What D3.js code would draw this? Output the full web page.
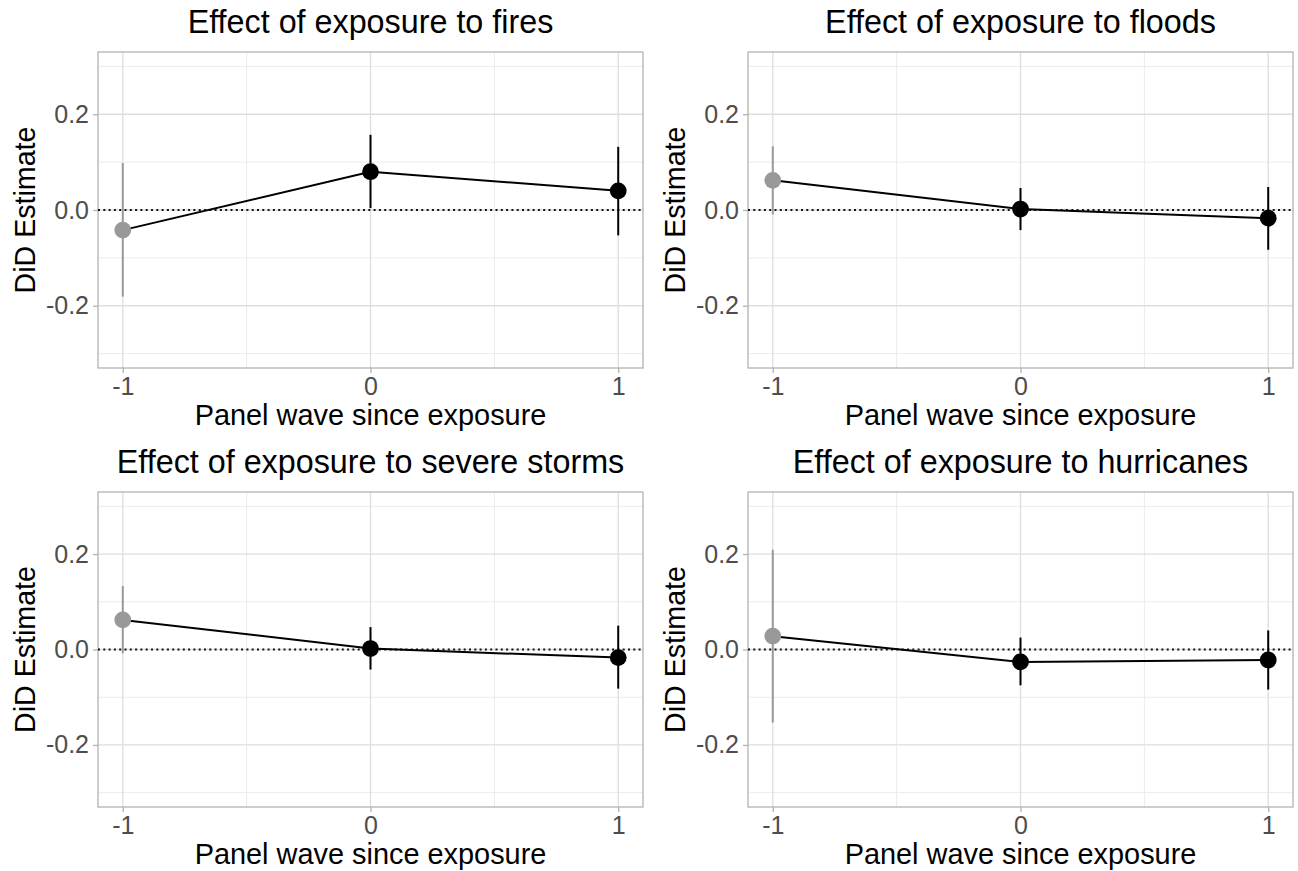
<!DOCTYPE html>
<html>
<head>
<meta charset="utf-8">
<script src="https://cdn.jsdelivr.net/npm/d3@7"></script>
<style>
  html, body { margin: 0; padding: 0; background: #fff; }
  svg { display: block; font-family: "Liberation Sans", Arial, Helvetica, sans-serif; }
</style>
</head>
<body>
<svg id="chart" width="1298" height="871"></svg>
<script>
// ---- Data ----
const waves = [-1, 0, 1];
const panelTitles = [
  "Effect of exposure to fires",
  "Effect of exposure to floods",
  "Effect of exposure to severe storms",
  "Effect of exposure to hurricanes"
];
const estFires     = [-0.042, 0.080, 0.040];
const estFloods    = [0.062, 0.002, -0.017];
const estStorms    = [0.062, 0.002, -0.017];
const estHurricanes= [0.028, -0.026, -0.022];
const loFires      = [-0.181, 0.004, -0.053];
const loFloods     = [-0.009, -0.042, -0.083];
const loStorms     = [-0.008, -0.042, -0.082];
const loHurricanes = [-0.153, -0.075, -0.084];
const hiFires      = [0.098, 0.157, 0.132];
const hiFloods     = [0.133, 0.046, 0.048];
const hiStorms     = [0.133, 0.047, 0.050];
const hiHurricanes = [0.209, 0.025, 0.040];
const yTicks = [-0.2, 0.0, 0.2];
const yTickLabels = ["-0.2", "0.0", "0.2"];
const yMinor = [-0.3, -0.1, 0.1, 0.3];
const xTicks = [-1, 0, 1];
const xTickLabels = ["-1", "0", "1"];
const xMinor = [-0.5, 0.5];
const xTitle = "Panel wave since exposure";
const yTitle = "DiD Estimate";

const estimates = [estFires, estFloods, estStorms, estHurricanes];
const lows = [loFires, loFloods, loStorms, loHurricanes];
const highs = [hiFires, hiFloods, hiStorms, hiHurricanes];

// ---- Layout ----
const svg = d3.select("#chart");
const panels = [
  {x0: 98,  x1: 643,  y0: 52,  y1: 368},
  {x0: 748, x1: 1293, y0: 52,  y1: 368},
  {x0: 98,  x1: 643,  y0: 492, y1: 807},
  {x0: 748, x1: 1293, y0: 492, y1: 807}
];

panels.forEach((p, i) => {
  const x = d3.scaleLinear().domain([-1.1, 1.1]).range([p.x0, p.x1]);
  const y = d3.scaleLinear().domain([-0.33, 0.33]).range([p.y1, p.y0]);
  const g = svg.append("g");

  // minor grid
  g.selectAll(".ymin").data(yMinor).join("line")
    .attr("x1", p.x0).attr("x2", p.x1)
    .attr("y1", d => y(d)).attr("y2", d => y(d))
    .attr("stroke", "#ebebeb").attr("stroke-width", 1);
  g.selectAll(".xmin").data(xMinor).join("line")
    .attr("y1", p.y0).attr("y2", p.y1)
    .attr("x1", d => x(d)).attr("x2", d => x(d))
    .attr("stroke", "#ebebeb").attr("stroke-width", 1);
  // major grid
  g.selectAll(".ymaj").data(yTicks).join("line")
    .attr("x1", p.x0).attr("x2", p.x1)
    .attr("y1", d => y(d)).attr("y2", d => y(d))
    .attr("stroke", "#dedede").attr("stroke-width", 1.3);
  g.selectAll(".xmaj").data(xTicks).join("line")
    .attr("y1", p.y0).attr("y2", p.y1)
    .attr("x1", d => x(d)).attr("x2", d => x(d))
    .attr("stroke", "#dedede").attr("stroke-width", 1.3);

  // axes (ticks + labels)
  const yAxis = d3.axisLeft(y).tickValues(yTicks)
    .tickFormat((d, k) => yTickLabels[k]).tickSize(5).tickPadding(4);
  const ya = g.append("g").attr("transform", `translate(${p.x0},0)`).call(yAxis);
  ya.select(".domain").remove();
  ya.selectAll(".tick line").attr("stroke", "#b3b3b3").attr("stroke-width", 1.3);
  ya.selectAll(".tick text").attr("fill", "#4d4d4d")
    .style("font-size", "25px").style("font-family", "'Liberation Sans', Arial, sans-serif");

  const xAxis = d3.axisBottom(x).tickValues(xTicks)
    .tickFormat((d, k) => xTickLabels[k]).tickSize(5).tickPadding(4);
  const xa = g.append("g").attr("transform", `translate(0,${p.y1})`).call(xAxis);
  xa.select(".domain").remove();
  xa.selectAll(".tick line").attr("stroke", "#b3b3b3").attr("stroke-width", 1.3);
  xa.selectAll(".tick text").attr("fill", "#4d4d4d")
    .style("font-size", "25px").style("font-family", "'Liberation Sans', Arial, sans-serif");

  // panel border
  g.append("rect")
    .attr("x", p.x0).attr("y", p.y0)
    .attr("width", p.x1 - p.x0).attr("height", p.y1 - p.y0)
    .attr("fill", "none").attr("stroke", "#b3b3b3").attr("stroke-width", 1.3);

  // zero reference line
  g.append("line")
    .attr("x1", p.x0).attr("x2", p.x1)
    .attr("y1", y(0)).attr("y2", y(0))
    .attr("stroke", "#111").attr("stroke-width", 2.2)
    .attr("stroke-dasharray", "2,3.3");

  const rows = waves.map((w, k) => ({w, est: estimates[i][k], lo: lows[i][k], hi: highs[i][k]}));
  const col = d => d.w < 0 ? "#999999" : "#000000";

  // error bars
  g.selectAll(".err").data(rows).join("line")
    .attr("x1", d => x(d.w)).attr("x2", d => x(d.w))
    .attr("y1", d => y(d.lo)).attr("y2", d => y(d.hi))
    .attr("stroke", col).attr("stroke-width", 2);

  // connecting line
  g.append("path").datum(rows)
    .attr("d", d3.line().x(d => x(d.w)).y(d => y(d.est)))
    .attr("fill", "none").attr("stroke", "#000").attr("stroke-width", 2);

  // points
  g.selectAll(".pt").data(rows).join("circle")
    .attr("cx", d => x(d.w)).attr("cy", d => y(d.est)).attr("r", 8.4)
    .attr("fill", col);

  // titles
  const cx = (p.x0 + p.x1) / 2;
  g.append("text").attr("x", cx).attr("y", p.y0 - 19)
    .attr("text-anchor", "middle").attr("fill", "#000")
    .style("font-size", "32.3px").text(panelTitles[i]);
  g.append("text").attr("x", cx).attr("y", p.y1 + 57)
    .attr("text-anchor", "middle").attr("fill", "#000")
    .style("font-size", "28.9px").text(xTitle);
  const cy = (p.y0 + p.y1) / 2;
  g.append("text")
    .attr("transform", `translate(${p.x0 - 63},${cy}) rotate(-90)`)
    .attr("text-anchor", "middle").attr("fill", "#000")
    .style("font-size", "28.6px").text(yTitle);
});
</script>
</body>
</html>
